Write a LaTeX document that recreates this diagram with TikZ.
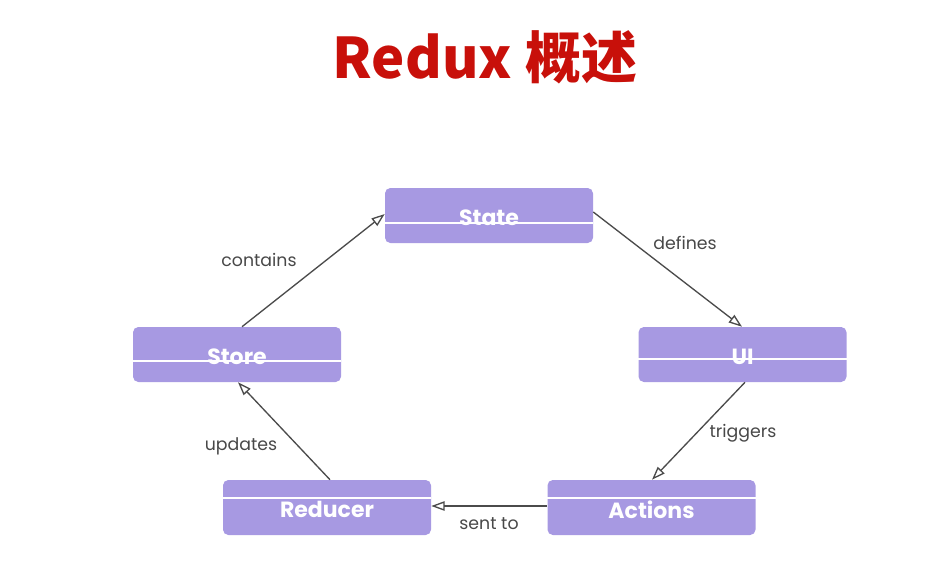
\documentclass[tikz,border=0pt]{standalone}
\usepackage{fontspec}
\usetikzlibrary{arrows.meta}
\newfontfamily\cjkfont{Noto Sans CJK SC}
\newfontfamily\popfont{Poppins}
\definecolor{boxfill}{RGB}{167,153,226}
\definecolor{titlered}{RGB}{200,16,10}
\definecolor{labelgrey}{RGB}{72,72,72}
\definecolor{arrowgrey}{RGB}{75,75,75}
\begin{document}
\begin{tikzpicture}[x=0.75pt,y=-0.75pt,
  box/.style={fill=boxfill, rounded corners=4pt, minimum width=156pt, minimum height=41.25pt, inner sep=0pt,
    text=white, font=\popfont\bfseries\fontsize{16.5}{19}\selectfont},
  boxtext/.style={text=white, inner sep=0pt, font=\popfont\bfseries\fontsize{16.5}{19}\selectfont},
  conn/.style={draw=arrowgrey, line width=1pt, -{Triangle[open,length=10pt,width=7pt]}},
  lbl/.style={text=labelgrey, font=\popfont\fontsize{13}{15}\selectfont, inner sep=0pt},
  cut/.style={draw=white, line width=1.5pt}]
\useasboundingbox (0,0) rectangle (938,588);
\node[font=\cjkfont\bfseries\fontsize{42}{48}\selectfont, text=titlered] (title) at (485,57) {Redux 概述};
% boxes
\node[box] (state) at (489,215.5) {};
\node[box] (store) at (237,354.5) {};
\node[box] (ui) at (742.5,354.5) {};
\node[box] (reducer) at (327,507.5) {};
\node[box] (actions) at (651.5,507.5) {};
% white lines across boxes
\draw[cut] (state.west |- 0,223) -- (state.east |- 0,223);
\draw[cut] (store.west |- 0,361) -- (store.east |- 0,361);
\draw[cut] (ui.west |- 0,359) -- (ui.east |- 0,359);
\draw[cut] (reducer.west |- 0,498) -- (reducer.east |- 0,498);
\draw[cut] (actions.west |- 0,498) -- (actions.east |- 0,498);
% box texts
\node[boxtext] at ([yshift=-1.5pt]state.center) {State};
\node[boxtext] at ([yshift=-1.5pt]store.center) {Store};
\node[boxtext] at ([yshift=-1.5pt]ui.center) {UI};
\node[boxtext] at ([yshift=-1.5pt]reducer.center) {Reducer};
\node[boxtext] at ([yshift=-1.5pt]actions.center) {Actions};
% connectors
\coordinate (s1) at (242,327);
\coordinate (s2) at (385,214);
\draw[conn] (store.north -| s1) -- (state.west |- s2);
\coordinate (d1) at (593,212);
\coordinate (d2) at (742,327);
\draw[conn] (state.east |- d1) -- (ui.north -| d2);
\coordinate (t1) at (745,382);
\coordinate (t2) at (652,480);
\draw[conn] (ui.south -| t1) -- (actions.north -| t2);
\coordinate (a1) at (547,506);
\draw[conn] (actions.west |- a1) -- (reducer.east |- a1);
\coordinate (r1) at (330,480);
\coordinate (r2) at (238,382);
\draw[conn] (reducer.north -| r1) -- (store.south -| r2);
% labels
\node[lbl] (lcontains) at (259,260) {contains};
\node[lbl] (ldefines) at (685,243) {defines};
\node[lbl] (ltriggers) at (743,433) {triggers};
\node[lbl] (lsent) at (489,524) {sent to};
\node[lbl] (lupdates) at (241,446) {updates};
\end{tikzpicture}
\end{document}
